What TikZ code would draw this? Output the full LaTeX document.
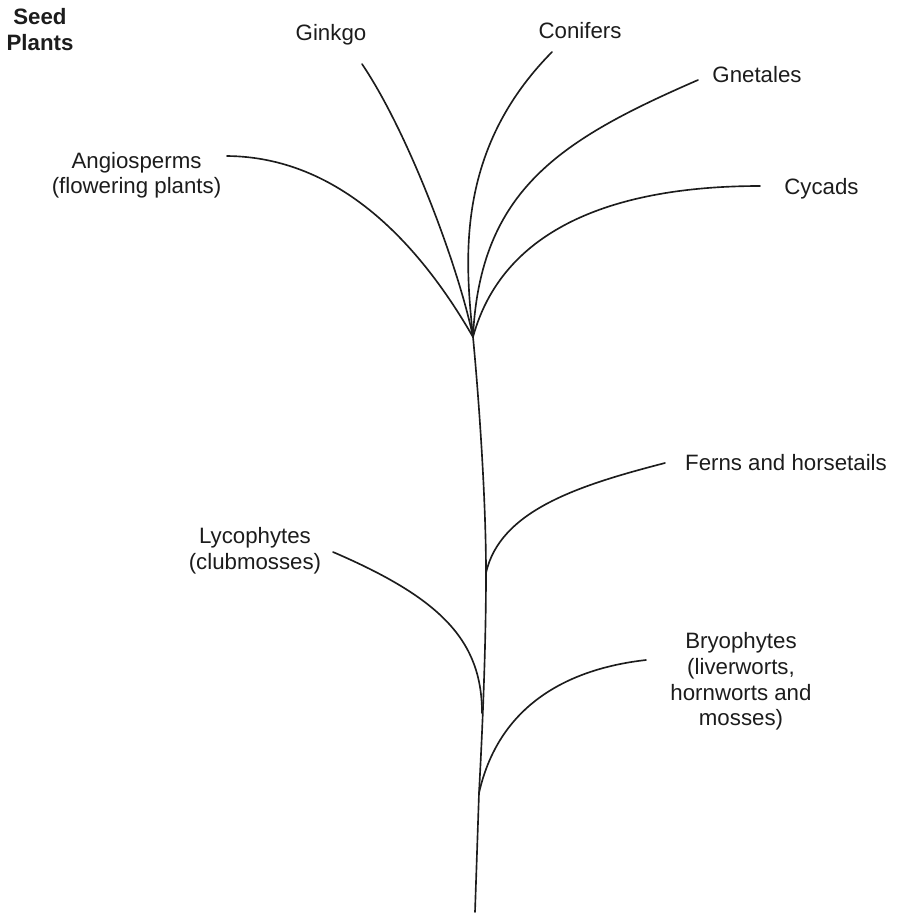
\documentclass[tikz,border=0pt]{standalone}
\usepackage{fontspec}
\setmainfont{Liberation Sans}
\definecolor{TreeInk}{HTML}{1C1C1C}

\begin{document}
\begin{tikzpicture}[x=0.03cm,y=-0.03cm]
    \tikzset{taxon/.style={font=\fontsize{19}{21.8}\selectfont,align=center,inner sep=0pt,text=TreeInk},
      branch/.style={draw=TreeInk,line width=1.4pt,line cap=round}}
    \useasboundingbox (0,0) rectangle (898,914);
    % labels
    \node[taxon,font=\fontsize{19}{21.8}\selectfont\bfseries] (seed) at (40,29.3) {Seed\\Plants};
    \node[taxon,anchor=base] (ginkgo) at (331,40.7) {Ginkgo};
    \node[taxon,anchor=base] (conifers) at (580,38) {Conifers};
    \node[taxon,anchor=base] (gnetales) at (757,82.7) {Gnetales};
    \node[taxon,anchor=base] (cycads) at (821.5,194) {Cycads};
    \node[taxon] (angio) at (136.5,175.4) {Angiosperms\\(flowering plants)};
    \node[taxon,anchor=base] (ferns) at (786,470.7) {Ferns and horsetails};
    \node[taxon] (lyco) at (255,551) {Lycophytes\\(clubmosses)};
    \node[taxon] (bryo) at (741,681.5) {Bryophytes\\(liverworts,\\hornworts and\\mosses)};
    % branch tips and forks
    \coordinate (angiotip) at (227,156);
    \coordinate (ginkgotip) at (362,64);
    \coordinate (conifertip) at (552,52);
    \coordinate (gnetaletip) at (698,80);
    \coordinate (cycadtip) at (760,186);
    \coordinate (ferntip) at (665,463);
    \coordinate (lycotip) at (333,552);
    \coordinate (bryotip) at (646,660);
    \coordinate (fork) at (473,337);
    \coordinate (fernfork) at (486,573);
    \coordinate (lycojoin) at (482,713);
    \coordinate (bryofork) at (479,793);
    \coordinate (root) at (475,912);
    % main stem
    \draw[branch] (fork) .. controls (479,400) and (486,500) .. (fernfork)
      .. controls (486,640) and (483,720) .. (bryofork) -- (root);
    % seed plant fan
    \draw[branch] (angiotip) .. controls (340,157) and (420,245) .. (fork);
    \draw[branch] (ginkgotip) .. controls (408,132) and (458,265) .. (fork);
    \draw[branch] (conifertip) .. controls (455,150) and (465,260) .. (fork);
    \draw[branch] (gnetaletip) .. controls (560,140) and (480,190) .. (fork);
    \draw[branch] (cycadtip) .. controls (630,186) and (505,220) .. (fork);
    % lower branches
    \draw[branch] (ferntip) .. controls (580,485) and (500,510) .. (fernfork);
    \draw[branch] (lycotip) .. controls (440,598) and (482,640) .. (lycojoin);
    \draw[branch] (bryotip) .. controls (575,668) and (500,700) .. (bryofork);
  \end{tikzpicture}
\end{document}
